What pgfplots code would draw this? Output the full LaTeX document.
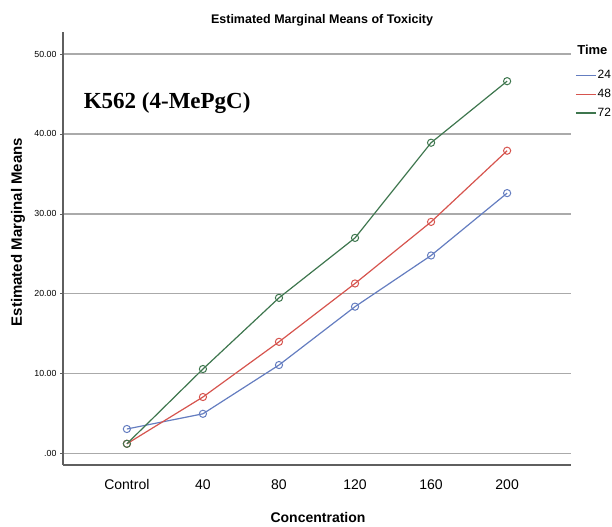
\documentclass[border=0pt]{standalone}
\usepackage{pgfplots}
\pgfplotsset{compat=1.18}
\usepackage{fontspec}
\setmainfont{Liberation Sans}
\newfontfamily\timesfont{Liberation Serif}
\definecolor{c24}{RGB}{100,125,192}
\definecolor{c48}{RGB}{214,84,78}
\definecolor{c72}{RGB}{62,118,78}
\definecolor{gridc}{RGB}{170,170,170}
\definecolor{axc}{RGB}{95,95,95}
\begin{document}
\begin{tikzpicture}[x=1pt,y=1pt]
\begin{axis}[
  scale only axis, width=508pt, height=433pt,
  xmin=-0.84, xmax=5.84, ymin=-1.4, ymax=52.75,
  axis x line*=bottom, axis y line*=left,
  axis line style={-, draw=axc, line width=1.3pt},
  xtick={0,1,2,3,4,5},
  xticklabels={Control,40,80,120,160,200},
  ytick={0,10,20,30,40,50},
  yticklabels={.00,10.00,20.00,30.00,40.00,50.00},
  /pgf/number format/assume math mode=true,
  x tick style={draw=none},
  y tick style={draw=axc, line width=0.8pt},
  tick align=outside, major tick length=3pt,
  ymajorgrids, major grid style={draw=gridc, line width=1.2pt},
  xticklabel style={font=\fontsize{14}{16}\selectfont, yshift=-8pt},
  yticklabel style={font=\fontsize{8.8}{10}\selectfont},
  title={Estimated Marginal Means of Toxicity},
  title style={at={(axis description cs:0.51,1.0)}, anchor=base, yshift=2pt, font=\bfseries\fontsize{12.5}{14}\selectfont},
  xlabel={Concentration},
  xlabel style={at={(axis description cs:0.502,-0.1224)}, anchor=center, font=\bfseries\fontsize{14}{16}\selectfont},
  ylabel={Estimated Marginal Means},
  ylabel style={at={(axis description cs:-0.0886,0.538)}, anchor=center, font=\bfseries\fontsize{15}{17}\selectfont},
  legend style={at={(axis description cs:1.008,0.914)}, anchor=north west, draw=none, fill=none,
    inner sep=0pt, row sep=7pt, font=\fontsize{12}{14}\selectfont, nodes={inner sep=1pt}},
  legend cell align=left,
  legend image code/.code={\draw[#1, mark=none, line width=1.4pt] (0pt,0pt) -- (20pt,0pt);},
  every axis plot/.append style={line width=1.2pt, mark=o, mark size=3.6pt, mark options={line width=1pt}},
  clip=false,
]
\addplot[c24] coordinates {(0,3.1) (1,5.0) (2,11.1) (3,18.4) (4,24.8) (5,32.6)};
\addlegendentry{24}
\addplot[c48] coordinates {(0,1.25) (1,7.1) (2,14.0) (3,21.3) (4,29.0) (5,37.9)};
\addlegendentry{48}
\addplot[c72] coordinates {(0,1.25) (1,10.6) (2,19.5) (3,27.0) (4,38.9) (5,46.6)};
\addlegendentry{72}
\node[font=\timesfont\bfseries\fontsize{23}{26}\selectfont] at (axis description cs:0.205,0.836) {K562 (4-MePgC)};
\node[anchor=west, inner sep=0pt, font=\bfseries\fontsize{13}{15}\selectfont] at (axis description cs:1.012,0.958) {Time};
\coordinate (bbsw) at (axis description cs:-0.12402,-0.14319);
\coordinate (bbne) at (axis description cs:1.08071,1.07390);
\end{axis}
\pgfresetboundingbox
\path[use as bounding box] (bbsw) rectangle (bbne);
\end{tikzpicture}
\end{document}
